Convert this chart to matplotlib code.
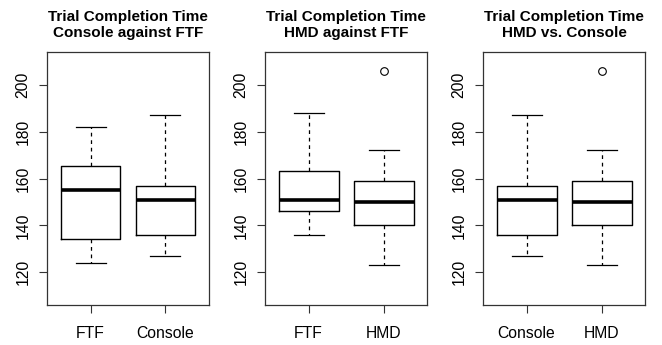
import matplotlib
matplotlib.use("Agg")
import matplotlib.pyplot as plt

plt.rcParams['font.family'] = ['Liberation Sans', 'DejaVu Sans']

# five-number summaries: (whislo, q1, med, q3, whishi, fliers)
ftf = dict(label='FTF', whislo=124, q1=134, med=155, q3=165.5, whishi=182, fliers=[])
console = dict(label='Console', whislo=127, q1=136, med=151, q3=157, whishi=187, fliers=[])
ftf_b = dict(label='FTF', whislo=136, q1=146, med=151, q3=163, whishi=188, fliers=[])
hmd = dict(label='HMD', whislo=123, q1=140, med=150, q3=159, whishi=172, fliers=[206])

panels = [
    ("Trial Completion Time\nConsole against FTF", [ftf, console]),
    ("Trial Completion Time\nHMD against FTF", [ftf_b, hmd]),
    ("Trial Completion Time\nHMD vs. Console", [console, hmd]),
]
yticks = [120, 140, 160, 180, 200]

fig = plt.figure(figsize=(6.62, 3.45), dpi=100)
lefts = [47, 265, 483]
for (title, stats), left in zip(panels, lefts):
    ax = fig.add_axes([left / 662, 40 / 345, 162 / 662, 253 / 345])
    ax.bxp(stats, positions=[1, 2], widths=0.8, showfliers=True,
           boxprops=dict(color='black', linewidth=1),
           medianprops=dict(color='black', linewidth=2.6, solid_capstyle='butt'),
           whiskerprops=dict(color='black', linewidth=0.9, linestyle=(0, (3, 3))),
           capprops=dict(color='black', linewidth=0.9),
           capwidths=0.4,
           flierprops=dict(marker='o', markerfacecolor='none', markeredgecolor='black',
                           markersize=5.5, markeredgewidth=0.8))
    ax.set_xlim(0.42, 2.58)
    ax.set_ylim(106, 214)
    ax.set_yticks(yticks)
    ax.set_yticklabels([str(v) for v in yticks], rotation=90, va='center')
    ax.tick_params(axis='both', length=6, width=0.8, labelsize=11.3, color='#333333')
    ax.tick_params(axis='y', pad=6)
    ax.tick_params(axis='x', pad=9)
    for s in ax.spines.values():
        s.set_linewidth(0.9)
        s.set_color('#333333')
    ax.set_title(title, fontsize=11, fontweight='bold', pad=11, linespacing=1.2)

fig.savefig('out.png', dpi=100)
